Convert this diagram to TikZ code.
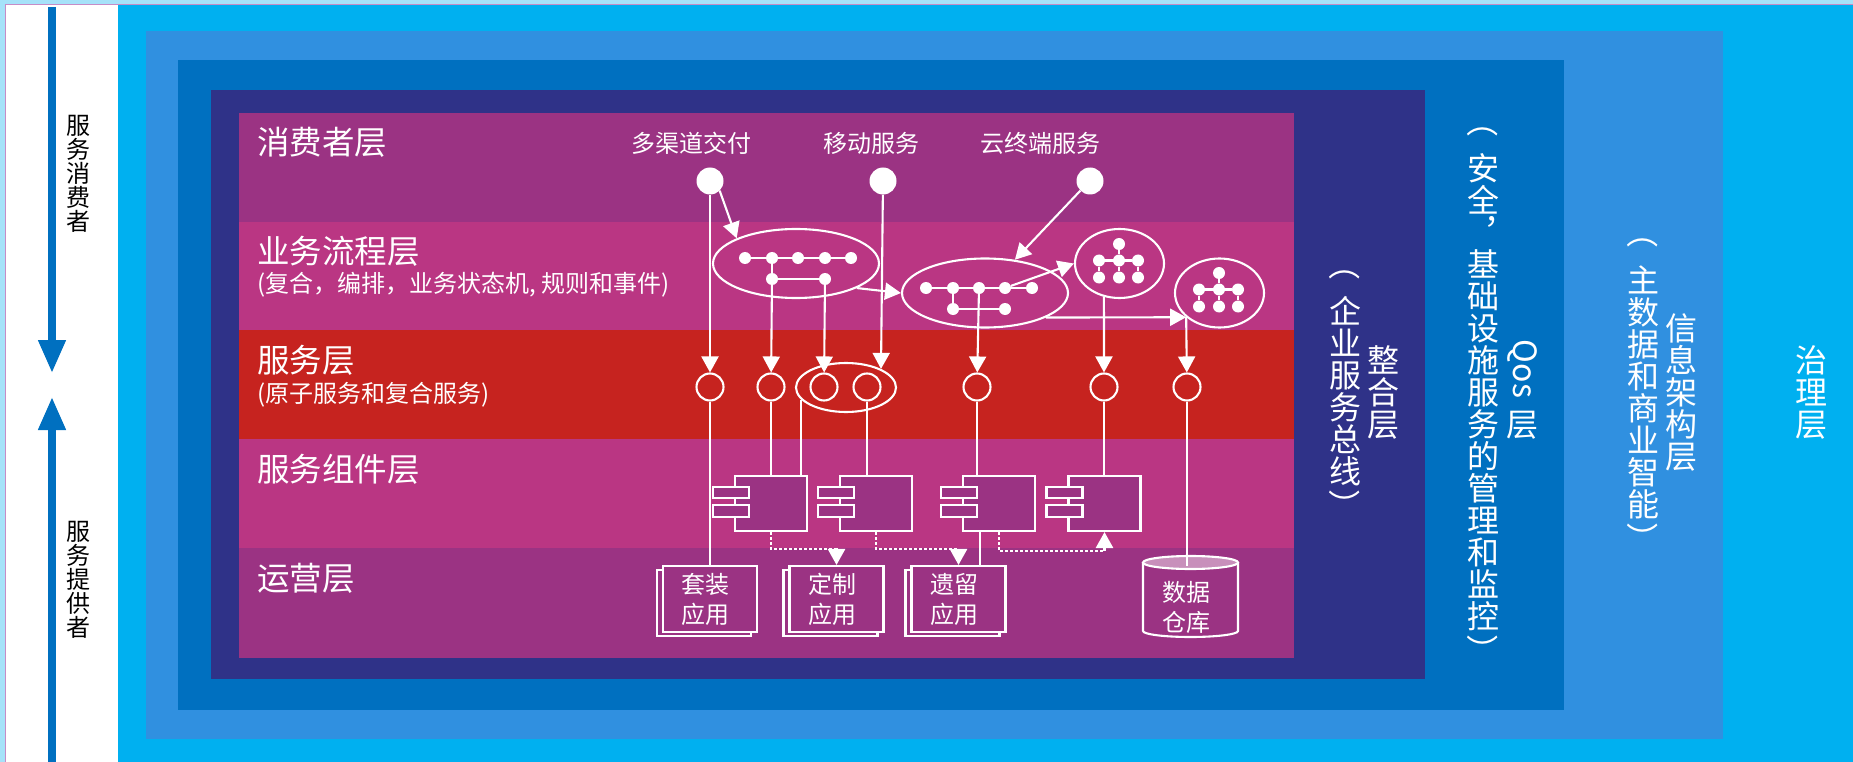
\documentclass[tikz,border=0pt]{standalone}
\usepackage{fontspec}
\setmainfont{Noto Sans CJK SC}
\usetikzlibrary{arrows.meta,shapes.geometric}
\lineskiplimit=-1000pt
\definecolor{govcyan}{HTML}{00B0F0}
\definecolor{infoblue}{HTML}{3090E0}
\definecolor{qosblue}{HTML}{0070C0}
\definecolor{busnavy}{HTML}{2F3288}
\definecolor{plum}{HTML}{9B3383}
\definecolor{rose}{HTML}{BA3683}
\definecolor{svcred}{HTML}{C6231F}
\tikzset{
  line/.style={draw=white,line width=2.1pt},
  flow/.style={line,-{Triangle[length=16pt,width=17pt]}},
  dep/.style={line,line width=2.6pt,dash pattern=on 2.6pt off 2.4pt,-{Triangle[length=16pt,width=17pt]}},
  layertitle/.style={text=white,anchor=west,inner sep=0pt,font=\fontsize{32.5}{36}\selectfont},
  layernote/.style={text=white,anchor=west,inner sep=0pt,font=\fontsize{24}{28}\selectfont},
  channel/.style={text=white,inner sep=0pt,font=\fontsize{24}{28}\selectfont},
  apptext/.style={text=white,align=center,inner sep=0pt,font=\fontsize{24}{30}\selectfont},
  sidetext/.style={text=white,align=center,inner sep=0pt,font=\fontsize{32}{32}\selectfont},
  parenmark/.style={sidetext,rotate=-90},
  roletext/.style={text=black,align=center,inner sep=0pt,font=\fontsize{24}{24}\selectfont},
  enddot/.style={circle,fill=white,inner sep=0pt,minimum size=27pt},
  treedot/.style={circle,fill=white,inner sep=0pt,minimum size=12pt},
  svc/.style={circle,line,inner sep=0pt,minimum size=27pt},
  flowring/.style={ellipse,line,inner sep=0pt,minimum width=166pt,minimum height=69pt},
  treering/.style={ellipse,line,inner sep=0pt,minimum width=89pt,minimum height=69pt},
  compbody/.style={rectangle,line,fill=plum,inner sep=0pt,minimum width=72pt,minimum height=55pt},
  comptab/.style={rectangle,line,fill=plum,inner sep=0pt,minimum width=36pt,minimum height=11.5pt},
  appbox/.style={rectangle,line,fill=plum,inner sep=0pt,minimum width=94pt,minimum height=66pt},
  storetop/.style={ellipse,line,fill=plum!55!white,inner sep=0pt,minimum width=95pt,minimum height=13pt},
}
\begin{document}
\begin{tikzpicture}[x=1pt,y=-1pt]
\useasboundingbox (0,0) rectangle (1853,762);
% backdrop and nested columns
\fill[cyan!35!white] (0,0) rectangle (1853,762);
\fill[govcyan] (118,4) rectangle (1853,762);
\fill[white] (6,5) rectangle (118,762);
\draw[violet!45!white,line width=1pt] (5.5,762) -- (5.5,4.5) -- (1853,4.5);
\fill[infoblue] (146,31) rectangle (1723,739);
\fill[qosblue] (178,60) rectangle (1564,710);
\fill[busnavy] (211,90) rectangle (1425,679);
\fill[plum] (239,113) rectangle (1294,222);
\fill[rose] (239,222) rectangle (1294,330);
\fill[svcred] (239,330) rectangle (1294,439);
\fill[rose] (239,439) rectangle (1294,548);
\fill[plum] (239,548) rectangle (1294,658);
% side arrows
\coordinate (downtop) at (52,7);
\coordinate (downtip) at (52,373);
\coordinate (uptip) at (52,397);
\coordinate (upfoot) at (52,762);
\draw[qosblue,line width=7.5pt,-{Triangle[length=33pt,width=26pt]}] (downtop) -- (downtip);
\draw[qosblue,line width=7.5pt,-{Triangle[length=33pt,width=26pt]}] (upfoot) -- (uptip);
\node[roletext] (consumer) at (78,173.5) {服\\务\\消\\费\\者};
\node[roletext] (provider) at (78,579.5) {服\\务\\提\\供\\者};
% layer titles
\node[layertitle] (t1) at (257,142) {消费者层};
\node[layertitle] (t2) at (257,251) {业务流程层};
\node[layernote] (n2) at (257,285) {(复合，编排，业务状态机, 规则和事件)};
\node[layertitle] (t3) at (257,360) {服务层};
\node[layernote] (n3) at (257,395) {(原子服务和复合服务)};
\node[layertitle] (t4) at (257,469) {服务组件层};
\node[layertitle] (t5) at (257,578) {运营层};
% right columns
\node[parenmark] (busopen) at (1345,265) {（};
\node[sidetext] (bus) at (1345,391) {企\\业\\服\\务\\总\\线};
\node[parenmark] (busclose) at (1345,505) {）};
\node[sidetext] (bustitle) at (1383,392) {整\\合\\层};
\node[parenmark] (qosopen) at (1483,122) {（};
\node[sidetext] (qos) at (1483,392) {安\\全\\︐\\基\\础\\设\\施\\服\\务\\的\\管\\理\\和\\监\\控};
\node[parenmark] (qosclose) at (1483,650) {）};
\node[parenmark] (qosname) at (1522,369) {Qos};
\node[sidetext] (qostitle) at (1522,425) {层};
\node[parenmark] (infoopen) at (1643,233) {（};
\node[sidetext] (info) at (1643,392) {主\\数\\据\\和\\商\\业\\智\\能};
\node[parenmark] (infoclose) at (1643,538) {）};
\node[sidetext] (infotitle) at (1681,392) {信\\息\\架\\构\\层};
\node[sidetext] (gov) at (1811,392) {治\\理\\层};
% consumer channels
\node[channel] (ch1) at (691,143) {多渠道交付};
\node[channel] (ch2) at (871,143) {移动服务};
\node[channel] (ch3) at (1040,143) {云终端服务};
\node[enddot] (c1) at (710,181) {};
\node[enddot] (c2) at (883,181) {};
\node[enddot] (c3) at (1090,181) {};
% processes
\node[flowring] (e1) at (796,263.5) {};
\node[flowring] (e2) at (985,293) {};
\node[treering] (tc1) at (1119.5,263.5) {};
\node[treering] (tc2) at (1219.5,293) {};
\foreach \i/\x in {1/745,2/772,3/798,4/825,5/851}
  \node[treedot] (ea\i) at (\x,258) {};
\node[treedot] (eb1) at (772,279) {};
\node[treedot] (eb2) at (825,279) {};
\foreach \i/\x in {1/926,2/953,3/979,4/1005,5/1032}
  \node[treedot] (fa\i) at (\x,288) {};
\node[treedot] (fb1) at (953,309) {};
\node[treedot] (fb2) at (1005,309) {};
\draw[line] (ea1) -- (ea5);
\draw[line] (ea2) -- (eb1) -- (eb2);
\draw[line] (fa1) -- (fa5);
\draw[line] (fa2) -- (fb1) -- (fb2);
\foreach \t/\x/\y in {p/1119/244,q/1219/273}{
  \node[treedot] (\t top) at (\x,\y) {};
  \foreach \i/\dx in {1/-20,2/0,3/19}{
    \node[treedot] (\t m\i) at (\x+\dx,\y+16.5) {};
    \node[treedot] (\t l\i) at (\x+\dx,\y+33.5) {};
    \draw[line] (\t m\i) -- (\t l\i);
  }
  \draw[line] (\t top) -- (\t m2);
  \draw[line] (\t m1) -- (\t m3);
}
% services
\foreach \i/\x in {1/710,2/771,3/824,4/867,5/977,6/1104,7/1187}
  \node[svc] (s\i) at (\x,387) {};
\node[ellipse,line,inner sep=0pt,minimum width=100pt,minimum height=49pt] (sgroup) at (846,387.5) {};
% components
\foreach \i/\x in {1/771,2/876,3/999,4/1104.5}{
  \node[compbody] (b\i) at (\x,503.5) {};
  \node[comptab] (b\i u) at (\x-40,492.5) {};
  \node[comptab] (b\i v) at (\x-40,511) {};
}
% applications
\foreach \i/\x/\name in {1/710/套装,2/836.5/定制,3/958.5/遗留}{
  \node[appbox] (appback\i) at (\x-6,603) {};
  \node[appbox] (app\i) at (\x,599) {};
  \node[apptext] (apptxt\i) at (\x-4.5,599) {\name\\应用};
}
% data store
\draw[line] (1143,562.5) -- (1143,631) arc[start angle=180,end angle=360,x radius=47.5pt,y radius=6pt] -- (1238,562.5);
\node[storetop] (db) at (1190.5,562.5) {};
\node[apptext] (dbtxt) at (1186,607.5) {数据\\仓库};
\coordinate (dbin) at (1187,566);
% connectors
\draw[flow] (c1) -- (s1);
\draw[flow] (c1.-45) -- (e1.157);
\draw[flow] (c2) -- (sgroup.28);
\draw[flow] (c3.225) -- (e2.48);
\draw[flow] (eb1) -- (s2);
\draw[flow] (eb2) -- (s3);
\draw[flow] (e1.-22) -- (e2.180);
\draw[flow] (fa3) -- (s5);
\draw[flow] (fa4) -- (tc1.180);
\draw[flow] (tc1.-115) -- (s6);
\draw[flow] (e2.-22) -- (tc2.216);
\draw[flow] (tc2.216) -- (s7);
\draw[line] (s1) -- (app1.north -| s1);
\draw[line] (s2) -- (b1.north -| s2);
\draw[line] (sgroup.-165) -- (b1.north -| sgroup.-165);
\draw[line] (s4) -- (b2.north -| s4);
\draw[line] (s5) -- (b3.north -| s5);
\draw[line] (s6) -- (b4.north -| s6);
\draw[line] (s7) -- (dbin);
\draw[line] ([xshift=-19pt]b3.south) -- ([xshift=-19pt]b3.south |- app3.north);
\draw[dep] (b1.south) -- ++(0,17) -| (app2.north);
\draw[dep] (b2.south) -- ++(0,17) -| (app3.north);
\draw[dep] (b3.south) -- ++(0,19) -| (b4.south);
\end{tikzpicture}
\end{document}
